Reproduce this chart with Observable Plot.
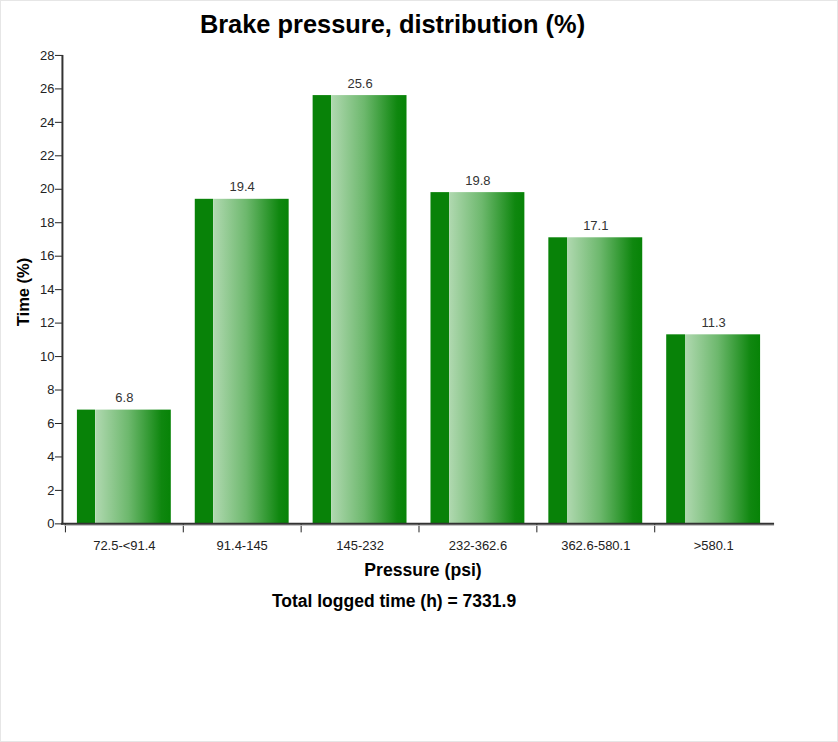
<!DOCTYPE html>
<html>
<head>
<meta charset="utf-8">
<script src="https://cdn.jsdelivr.net/npm/d3@7"></script>
<script src="https://cdn.jsdelivr.net/npm/@observablehq/plot@0.6"></script>
<style>
  html, body { margin: 0; padding: 0; background: #fff; }
  #wrap { position: relative; width: 836px; height: 740px; border: 1px solid #e6e6e6; overflow: hidden;
          font-family: "Liberation Sans", Arial, sans-serif; }
  #title { position: absolute; left: 0; top: 0; width: 783px; text-align: center;
           font-size: 25.4px; font-weight: bold; line-height: 47px; color: #000; }
  #xtitle { position: absolute; left: 0; top: 558px; width: 844px; text-align: center;
            font-size: 17.6px; font-weight: bold; line-height: 22px; color: #000; }
  #caption { position: absolute; left: 0; top: 589px; width: 786px; text-align: center;
             font-size: 17.5px; font-weight: bold; line-height: 22px; color: #000; }
  #ytitle { position: absolute; left: 22px; top: 291px; transform: translate(-50%, -50%) rotate(-90deg);
            font-size: 16.5px; font-weight: bold; white-space: nowrap; color: #000; }
  #chart { position: absolute; left: -1px; top: -1px; }
</style>
</head>
<body>
<div id="wrap">
  <div id="chart"></div>
  <div id="title">Brake pressure, distribution (%)</div>
  <div id="ytitle">Time (%)</div>
  <div id="xtitle">Pressure (psi)</div>
  <div id="caption">Total logged time (h) = 7331.9</div>
</div>
<script>
const categories = ["72.5-<91.4", "91.4-145", "145-232", "232-362.6", "362.6-580.1", ">580.1"];
const values = [6.8, 19.4, 25.6, 19.8, 17.1, 11.3];
const yTicks = [0, 2, 4, 6, 8, 10, 12, 14, 16, 18, 20, 22, 24, 26, 28];

const data = categories.map((c, i) => ({category: c, value: values[i]}));

// band-edge ticks on the x axis, drawn from the x scale
function edgeTicks(index, scales, values, dimensions) {
  const g = d3.create("svg:g");
  const x = scales.x, y0 = dimensions.height - dimensions.marginBottom;
  for (const c of categories) {
    const px = Math.round(x(c)) + 0.5;
    g.append("line").attr("x1", px).attr("x2", px).attr("y1", y0).attr("y2", y0 + 9)
      .attr("stroke", "#222").attr("stroke-width", 1);
  }
  return g.node();
}

// vertical axis line, drawn from the y scale
function yAxisLine(index, scales, values, dimensions) {
  const y = scales.y, [d0, d1] = y.domain();
  const px = dimensions.marginLeft - 1.5;
  return d3.create("svg:line")
    .attr("x1", px).attr("x2", px).attr("y1", y(d0) + 1).attr("y2", y(d1))
    .attr("stroke", "#333").attr("stroke-width", 2).node();
}

const chart = Plot.plot({
  width: 838,
  height: 620,
  marginTop: 55,
  marginBottom: 96,
  marginLeft: 64,
  marginRight: 65,
  style: {fontFamily: "'Liberation Sans', Arial, sans-serif", fontSize: "13px", color: "#222", background: "transparent"},
  x: {domain: categories, padding: 0, label: null},
  y: {domain: [0, 28], label: null},
  marks: [
    Plot.barY(data, {x: "category", y: "value", fill: "url(#barGrad)", insetLeft: 12, insetRight: 12}),
    Plot.text(data, {x: "category", y: "value", text: d => d.value.toFixed(1), dy: -12, fill: "#333", fontSize: 13}),
    Plot.axisY({ticks: yTicks, tickSize: 8, tickPadding: 1, tickFormat: d => d, fill: "#222", fontSize: 13, label: null, dx: -1}),
    Plot.axisX({tickSize: 0, tickPadding: 17, label: null, fill: "#222", fontSize: 13}),
    edgeTicks,
    Plot.ruleY([0], {stroke: "#bbb", strokeWidth: 1, dy: 1.5, insetRight: -2}),
    Plot.ruleY([0], {stroke: "#333", strokeWidth: 2, insetRight: -2, insetLeft: -3}),
    yAxisLine
  ]
});

// gradient definition
const ns = "http://www.w3.org/2000/svg";
const defs = document.createElementNS(ns, "defs");
defs.innerHTML = `
  <linearGradient id="barGrad" x1="0" y1="0" x2="1" y2="0">
    <stop offset="0" stop-color="#088208"/>
    <stop offset="0.195" stop-color="#088208"/>
    <stop offset="0.195" stop-color="#c4e3c4"/>
    <stop offset="0.205" stop-color="#afd8af"/>
    <stop offset="0.55" stop-color="#6db86d"/>
    <stop offset="0.9" stop-color="#0f870f"/>
    <stop offset="1" stop-color="#078307"/>
  </linearGradient>`;
chart.insertBefore(defs, chart.firstChild);
document.getElementById("chart").appendChild(chart);
</script>
</body>
</html>
